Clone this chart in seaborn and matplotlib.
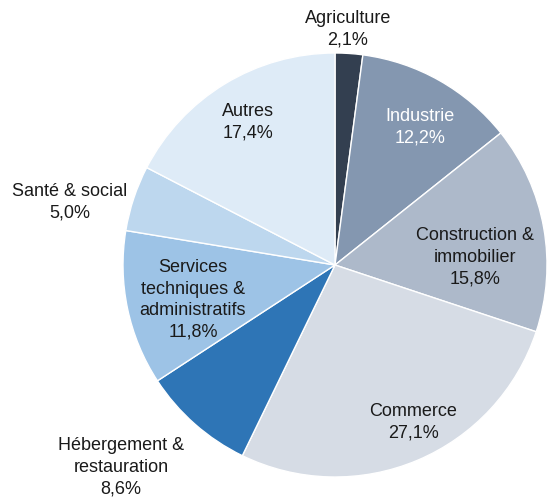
import matplotlib
matplotlib.use("Agg")
import matplotlib.pyplot as plt
import seaborn as sns

# --- data -----------------------------------------------------------------
sectors = [
    "Agriculture",
    "Industrie",
    "Construction &\nimmobilier",
    "Commerce",
    "Hébergement &\nrestauration",
    "Services\ntechniques &\nadministratifs",
    "Santé & social",
    "Autres",
]
shares = [2.1, 12.2, 15.8, 27.1, 8.6, 11.8, 5.0, 17.4]

colors = ["#333f50", "#8497b0", "#adb9ca", "#d6dce5",
          "#2e75b6", "#9dc3e6", "#bdd7ee", "#deebf7"]
text_colors = ["#1a1a1a", "white", "#1a1a1a", "#1a1a1a",
               "#1a1a1a", "#1a1a1a", "#1a1a1a", "#1a1a1a"]
# label anchor points, in pie radius units
label_pos = [(0.06, 1.115), (0.40, 0.655), (0.66, 0.04), (0.37, -0.735),
             (-1.01, -0.95), (-0.67, -0.16), (-1.25, 0.30), (-0.41, 0.68)]

sns.set_style("white")
plt.rcParams["font.family"] = ["Liberation Sans", "DejaVu Sans"]

fig = plt.figure(figsize=(5.49, 5.02), dpi=100)
ax = fig.add_axes([123 / 549, 24 / 502, 424 / 549, 424 / 502])

ax.pie(shares, colors=colors, startangle=90, counterclock=False,
       radius=1.0, wedgeprops=dict(edgecolor="white", linewidth=1.0))

for name, val, (x, y), tc in zip(sectors, shares, label_pos, text_colors):
    txt = f"{name}\n{val:.1f}%".replace(".", ",")
    ax.text(x, y, txt, ha="center", va="center", fontsize=13,
            color=tc, linespacing=1.35)

ax.set_xlim(-1, 1)
ax.set_ylim(-1, 1)
ax.set_aspect("equal")
ax.axis("off")

fig.savefig("out.png", dpi=100)
